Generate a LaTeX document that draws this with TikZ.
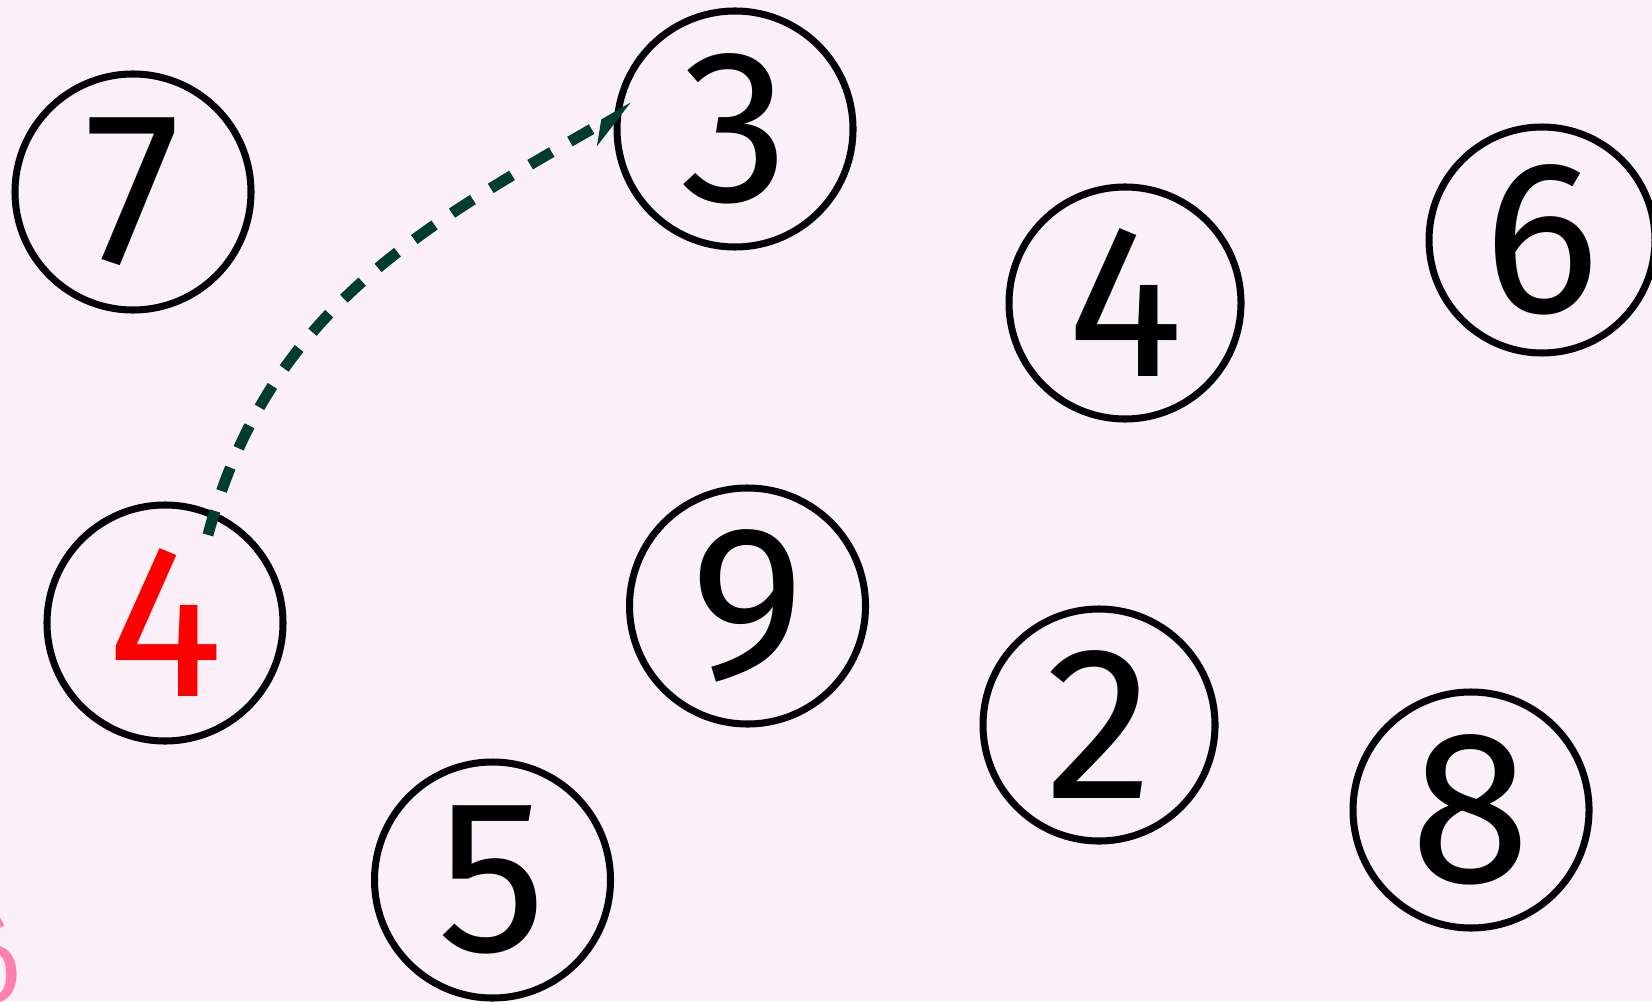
\documentclass[tikz,border=0pt]{standalone}
\usepackage{fontspec}
\setmainfont{Fira Sans}
\usetikzlibrary{arrows.meta,calc}
\definecolor{cardbg}{HTML}{FCF0F8}
\definecolor{pathgreen}{HTML}{003D2B}
\definecolor{markpink}{HTML}{FF7FAF}
\tikzset{
  ball/.style={circle, draw=black, line width=2pt, minimum size=2.36cm,
    inner sep=0pt, font=\fontsize{62}{62}\selectfont},
  hop/.style={-{Stealth[harpoon, swap, length=4.2mm, width=3.4mm]}, line width=0.11cm,
    draw=pathgreen, dash pattern=on 0.25cm off 0.21cm},
}

\begin{document}
\begin{tikzpicture}
    % canvas
    \useasboundingbox (0,0) rectangle (16.52,10.01);
    \clip (0,0) rectangle (16.52,10.01);
    \fill[cardbg] (0,0) rectangle (16.52,10.01);
    % numbered balls
    \node[ball] (n7) at (1.33,8.09) {7};
    \node[ball] (n3) at (7.35,8.72) {3};
    \node[ball, minimum size=2.32cm] (n4) at (11.25,6.98) {4};
    \node[ball, minimum size=2.26cm] (n6) at (15.42,7.61) {6};
    \node[ball, text=red] (r4) at (1.65,3.78) {4};
    \node[ball] (n9) at (7.475,3.95) {9};
    \node[ball, minimum size=2.32cm] (n2) at (10.99,2.76) {2};
    \node[ball] (n8) at (14.71,1.91) {8};
    \node[ball] (n5) at (4.925,1.21) {5};
    % move from the red ball to 3
    \coordinate (hopstart) at ($(r4)+(64:0.98)$);
    \coordinate (hopend) at ($(n3)+(167:1.05)$);
    \draw[hop] (hopstart) to[out=75, in=210] (hopend);
    % corner mark
    \node[text=markpink, font=\fontsize{30}{30}\selectfont] (mark) at (-0.08,0.4) {ó};
\end{tikzpicture}
\end{document}
